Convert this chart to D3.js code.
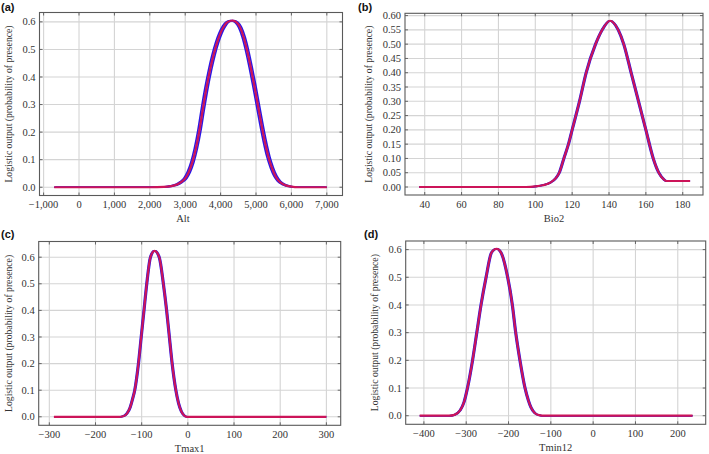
<!DOCTYPE html>
<html>
<head>
<meta charset="utf-8">
<script src="https://cdn.jsdelivr.net/npm/d3@7"></script>
<style>
  html, body { margin: 0; padding: 0; background: #fff; }
  svg { display: block; }
</style>
</head>
<body>
<svg id="chart" width="709" height="454"></svg>
<script>
// ---------- data ----------
const altX = [-700, 2000, 2400, 2600, 2800, 2900, 3000, 3100, 3200, 3300, 3400, 3500, 3600, 3700, 3800, 3900, 4000, 4100, 4200, 4330, 4450, 4550, 4650, 4750, 4850, 4950, 5050, 5150, 5250, 5350, 5450, 5550, 5650, 5800, 6000, 6200, 7000];
const altY = [0, 0, 0.001, 0.004, 0.012, 0.02, 0.032, 0.055, 0.09, 0.14, 0.205, 0.285, 0.36, 0.425, 0.48, 0.525, 0.56, 0.585, 0.6, 0.605, 0.598, 0.58, 0.545, 0.495, 0.435, 0.37, 0.3, 0.23, 0.165, 0.11, 0.07, 0.04, 0.022, 0.009, 0.002, 0, 0];

const bioX = [37, 60, 80, 95, 100, 104, 108, 111, 113, 115.5, 118, 120, 124, 127.6, 132.7, 136.3, 140.5, 145, 148, 152, 156, 160, 164, 167, 170, 171, 184];
const bioY = [0, 0, 0, 0, 0.002, 0.006, 0.015, 0.03, 0.05, 0.1, 0.15, 0.2, 0.3, 0.4, 0.5, 0.55, 0.582, 0.55, 0.5, 0.4, 0.3, 0.2, 0.1, 0.05, 0.025, 0.021, 0.021];

const tmaxX = [-290, -200, -150, -140, -132, -125, -120, -115, -107, -101, -95, -89, -81, -72, -62, -53, -46, -40, -34, -26, -20, -14, -8, -2, 300];
const tmaxY = [0, 0, 0, 0.002, 0.012, 0.035, 0.065, 0.1, 0.2, 0.3, 0.4, 0.5, 0.6, 0.624, 0.6, 0.5, 0.4, 0.3, 0.2, 0.1, 0.05, 0.02, 0.005, 0, 0];

const tminX = [-410, -340, -328, -314, -305, -297, -285, -275, -265, -253, -240, -228, -218, -202, -191, -183, -173, -161, -153, -147, -138, -128, -115, 235];
const tminY = [0, 0, 0.003, 0.02, 0.05, 0.1, 0.2, 0.3, 0.4, 0.5, 0.59, 0.603, 0.59, 0.5, 0.4, 0.3, 0.2, 0.1, 0.055, 0.03, 0.01, 0.002, 0, 0];

const altTicks = [-1000, 0, 1000, 2000, 3000, 4000, 5000, 6000, 7000];
const bioTicks = [40, 60, 80, 100, 120, 140, 160, 180];
const tmaxTicks = [-300, -200, -100, 0, 100, 200, 300];
const tminTicks = [-400, -300, -200, -100, 0, 100, 200];
const yTicksTenth = [0, 0.1, 0.2, 0.3, 0.4, 0.5, 0.6];
const yTicksTwentieth = [0, 0.05, 0.1, 0.15, 0.2, 0.25, 0.3, 0.35, 0.4, 0.45, 0.5, 0.55, 0.6];

const panelLabels = ["(a)", "(b)", "(c)", "(d)"];
const xTitles = ["Alt", "Bio2", "Tmax1", "Tmin12"];
const yTitle = "Logistic output (probability of presence)";

// ---------- layout ----------
const panels = [
  { label: panelLabels[0], lx: 1, ly: 11, box: [39.5, 12.5, 342.5, 195.5], xd: [-1116, 7443], yd: [-0.03, 0.634],
    xs: altX, ys: altY, xt: altTicks, yt: yTicksTenth, xf: d3.format(","), yf: d3.format(".1f"),
    title: xTitles[0], tx: 183, ytx: 8.5, spread: 1.6, line: 2.2 },
  { label: panelLabels[1], lx: 358, ly: 11, box: [405, 13.3, 703, 195], xd: [29.3, 191], yd: [-0.028, 0.608],
    xs: bioX, ys: bioY, xt: bioTicks, yt: yTicksTwentieth, xf: d3.format("d"), yf: d3.format(".2f"),
    title: xTitles[1], tx: 554, ytx: 369, spread: 0.8, line: 2.2 },
  { label: panelLabels[2], lx: 1, ly: 238, box: [38.7, 241.5, 340.7, 425.3], xd: [-323, 331], yd: [-0.032, 0.659],
    xs: tmaxX, ys: tmaxY, xt: tmaxTicks, yt: yTicksTenth, xf: d3.format("d"), yf: d3.format(".1f"),
    title: xTitles[2], tx: 189.7, ytx: 8.5, spread: 0.8, line: 2.2 },
  { label: panelLabels[3], lx: 364, ly: 238, box: [405.7, 241, 705.7, 424.3], xd: [-443, 266], yd: [-0.031, 0.631],
    xs: tminX, ys: tminY, xt: tminTicks, yt: yTicksTenth, xf: d3.format("d"), yf: d3.format(".1f"),
    title: xTitles[3], tx: 555.7, ytx: 374.7, spread: 0.8, line: 2.2 }
];

const svg = d3.select("#chart");
const serif = "'Liberation Serif', 'Times New Roman', serif";

panels.forEach(p => {
  const [l, t, r, b] = p.box;
  const x = d3.scaleLinear().domain(p.xd).range([l, r]);
  const y = d3.scaleLinear().domain(p.yd).range([b, t]);
  const g = svg.append("g");

  // gridlines
  g.append("g").selectAll("line").data(p.xt).join("line")
    .attr("x1", d => x(d)).attr("x2", d => x(d)).attr("y1", t).attr("y2", b)
    .attr("stroke", "#d4d4d4").attr("stroke-width", 1.1);
  g.append("g").selectAll("line").data(p.yt).join("line")
    .attr("x1", l).attr("x2", r).attr("y1", d => y(d)).attr("y2", d => y(d))
    .attr("stroke", "#d4d4d4").attr("stroke-width", 1.1);

  // inner tick marks
  const tk = 3;
  const ticks = g.append("g").attr("stroke", "#666").attr("stroke-width", 1);
  p.xt.forEach(d => {
    ticks.append("line").attr("x1", x(d)).attr("x2", x(d)).attr("y1", b).attr("y2", b - tk);
    ticks.append("line").attr("x1", x(d)).attr("x2", x(d)).attr("y1", t).attr("y2", t + tk);
  });
  p.yt.forEach(d => {
    ticks.append("line").attr("x1", l).attr("x2", l + tk).attr("y1", y(d)).attr("y2", y(d));
    ticks.append("line").attr("x1", r).attr("x2", r - tk).attr("y1", y(d)).attr("y2", y(d));
  });

  // curves: blue variability ribbon (horizontal spread) under the red mean line
  const pts = p.xs.map((v, i) => [v, p.ys[i]]);
  const line = d3.line().x(d => x(d[0])).y(d => y(d[1])).curve(d3.curveMonotoneX);
  const clipId = "clip" + p.label.replace(/[()]/g, "");
  svg.append("clipPath").attr("id", clipId).append("rect")
    .attr("x", x(p.xs[0])).attr("y", t).attr("width", x(p.xs[p.xs.length - 1]) - x(p.xs[0])).attr("height", b - t);
  const band = g.append("g").attr("clip-path", `url(#${clipId})`);
  [-p.spread, 0, p.spread].forEach(dx => {
    band.append("path").attr("d", line(pts)).attr("fill", "none")
      .attr("transform", `translate(${dx},0)`)
      .attr("stroke", "#2a18e6").attr("stroke-width", 1.6).attr("stroke-linejoin", "round");
  });
  g.append("path").attr("d", line(pts)).attr("fill", "none")
    .attr("stroke", "#cc1459").attr("stroke-width", p.line).attr("stroke-linejoin", "round");

  // frame
  g.append("rect").attr("x", l).attr("y", t).attr("width", r - l).attr("height", b - t)
    .attr("fill", "none").attr("stroke", "#5a5a5a").attr("stroke-width", 1.1);

  // tick labels
  g.append("g").selectAll("text").data(p.xt).join("text")
    .attr("x", d => x(d)).attr("y", b + 12.5)
    .attr("text-anchor", "middle").attr("font-family", serif).attr("font-size", 10.5).attr("fill", "#333")
    .text(d => p.xf(d));
  g.append("g").selectAll("text").data(p.yt).join("text")
    .attr("x", l - 4).attr("y", d => y(d) + 3.6)
    .attr("text-anchor", "end").attr("font-family", serif).attr("font-size", 10.5).attr("fill", "#333")
    .text(d => p.yf(d));

  // axis titles
  g.append("text").attr("x", p.tx).attr("y", b + 26.5)
    .attr("text-anchor", "middle").attr("font-family", serif).attr("font-size", 10.5).attr("fill", "#333")
    .text(p.title);
  g.append("text")
    .attr("transform", `translate(${p.ytx + 3.3},${(t + b) / 2}) rotate(-90)`)
    .attr("text-anchor", "middle").attr("font-family", serif).attr("font-size", 9.7).attr("fill", "#333")
    .text(yTitle);

  // panel label
  g.append("text").attr("x", p.lx).attr("y", p.ly)
    .attr("font-family", "'Liberation Sans', Arial, sans-serif").attr("font-weight", "bold")
    .attr("font-size", 11).attr("fill", "#111").text(p.label);
});
</script>
</body>
</html>
